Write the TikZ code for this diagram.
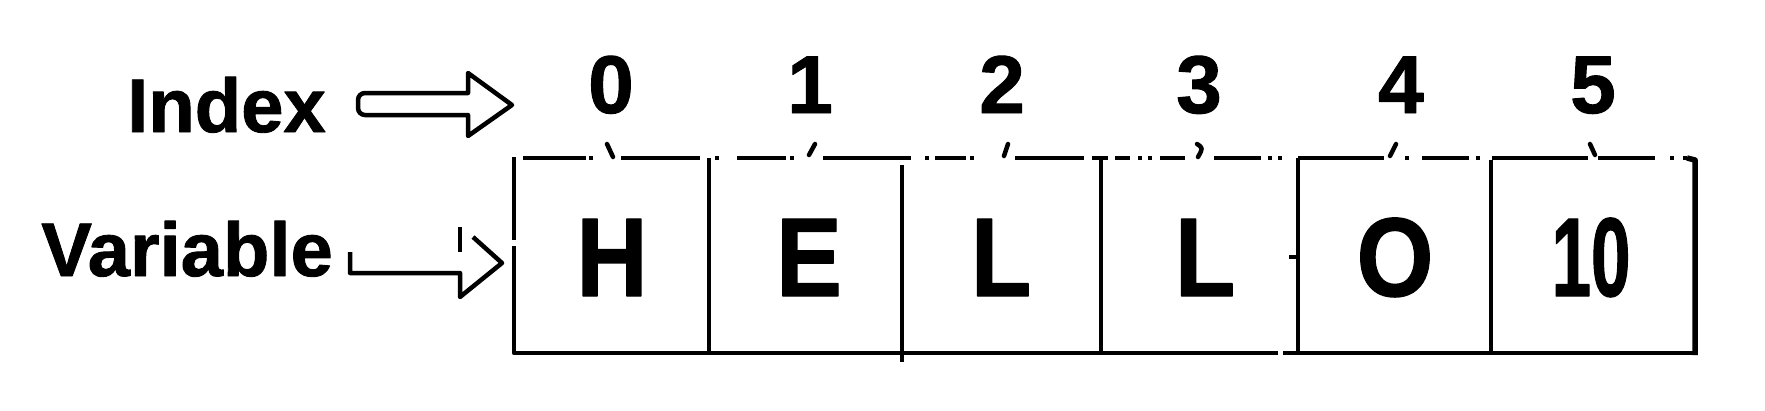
\documentclass[tikz,border=0pt]{standalone}
\usepackage{fontspec}
\setmainfont{Liberation Sans}
\newfontfamily\heavyfont[FakeBold=1.2]{Liberation Sans}
\newfontfamily\cellfont[FakeStretch=0.88,FakeBold=1.2]{Liberation Sans}
\begin{document}
\begin{tikzpicture}[x=1pt,y=-1pt, line join=round,
  edge/.style={line width=4.5pt},
  arrowline/.style={line width=4.5pt},
  tickmark/.style={line width=4.5pt, line cap=round},
  lbl/.style={inner sep=0pt, font=\heavyfont\bfseries\fontsize{76}{76}\selectfont},
  idx/.style={inner sep=0pt, anchor=base, font=\heavyfont\bfseries\fontsize{82}{82}\selectfont},
  cellchar/.style={inner sep=0pt, anchor=base, font=\cellfont\bfseries\fontsize{112}{112}\selectfont}]
\useasboundingbox[fill=white] (0,0) rectangle (1765,410);

% labels
\node[lbl, anchor=base west] (index) at (127,132) {Index};
\node[lbl, anchor=base east] (variable) at (333,276) {Variable};

% index numbers
\node[idx] (n0) at (611,113) {0};
\node[idx] (n1) at (810,113) {1};
\node[idx] (n2) at (1002,113) {2};
\node[idx] (n3) at (1199,113) {3};
\node[idx] (n4) at (1401,113) {4};
\node[idx] (n5) at (1593,113) {5};

% cell contents
\node[cellchar] (c0) at (612,296) {H};
\node[cellchar] (c1) at (809,296) {E};
\node[cellchar] (c2) at (1001,296) {L};
\node[cellchar] (c3) at (1205,296) {L};
\node[cellchar] (c4) at (1395,296) {O};
\node[cellchar] (c5) at (1591,296) {\scalebox{0.72}[1]{10}};

% index arrow (hollow)
\draw[arrowline] (468,93) [rounded corners=7pt] -- (358,93) -- (358,115) [sharp corners] -- (468,115) -- (468,136) -- (512,105) -- (468,73) -- cycle;

% variable arrow (open)
\draw[arrowline] (350,252) -- (350,273) -- (460,273) -- (460,297) -- (502,263) -- (473,237);
\draw[arrowline] (460,227) -- (460,252);

% box: left border, bottom, right border
\draw[edge] (514,157) -- (514,240);
\draw[edge] (514,246) -- (514,353) -- (1278,353);
\draw[edge] (1283,353) -- (1695,353);
\draw[line width=5.5pt] (1687,158) -- (1695,160) -- (1695,355);

% dividers
\draw[edge] (709,158) -- (709,353);
\draw[edge] (902,165) -- (902,362);
\draw[edge] (1101,158) -- (1101,353);
\draw[edge] (1298,158) -- (1298,353);
\draw[edge] (1289,257) -- (1298,257);
\draw[edge] (1491,160) -- (1491,353);

% broken top border
\foreach \a/\b in {523/586, 589/593, 621/700, 715/719, 737/786, 790/794, 823/911, 925/929, 935/966, 970/974, 1015/1084, 1092/1108, 1115/1130, 1138/1142, 1148/1152, 1160/1185, 1214/1261, 1268/1272, 1278/1282, 1298/1384, 1405/1409, 1422/1469, 1476/1480, 1492/1588, 1598/1655, 1670/1674, 1683/1687}
  \draw[edge] (\a,158) -- (\b,158);

% small tick marks under the numbers
\draw[tickmark] (607,144) -- (613,157);
\draw[tickmark] (815,144) -- (809,155);
\draw[tickmark] (1008,144) -- (1004,156);
\draw[tickmark] (1197,144) .. controls (1203,148) .. (1198,157);
\draw[tickmark] (1396,144) -- (1390,156);
\draw[tickmark] (1590,144) -- (1595,155);
\end{tikzpicture}
\end{document}
